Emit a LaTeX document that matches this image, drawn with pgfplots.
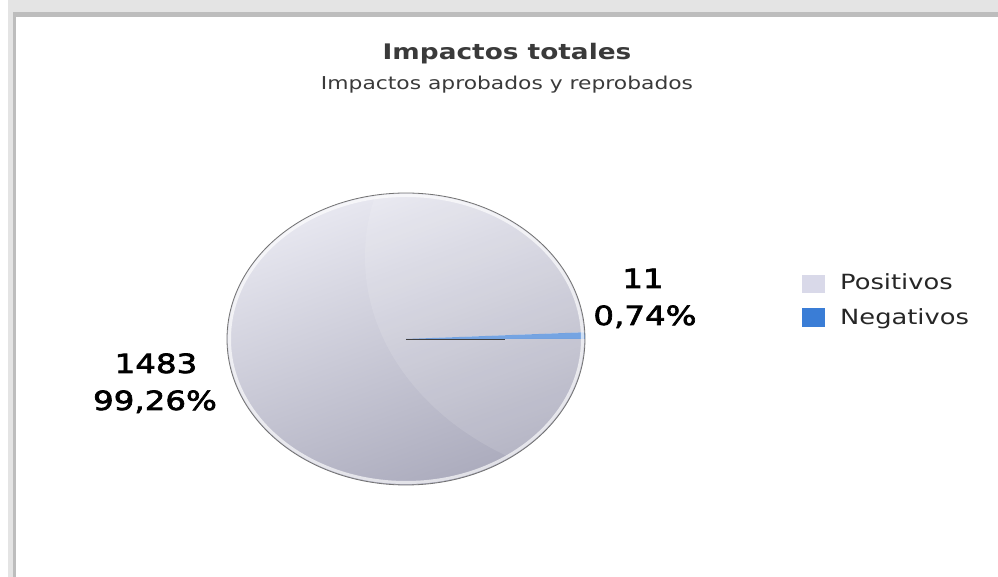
\documentclass[border=0pt]{standalone}
\usepackage{pgfplots}
\pgfplotsset{compat=1.18}
\usepackage{pgfplotstable}
\usepackage{fontspec}
\setmainfont{DejaVu Sans}[FakeStretch=1.23]
\newfontfamily\lblfont{DejaVu Sans}[FakeStretch=1.23,FakeBold=2.5]
\pgfkeys{/pgf/number format/assume math mode=true}

\definecolor{posfill}{HTML}{D9D9E9}
\definecolor{negblue}{HTML}{3A7DD6}
\definecolor{pieTop}{HTML}{ECECF4}
\definecolor{pieBot}{HTML}{A8A8BA}
\definecolor{frameA}{HTML}{E4E4E4}
\definecolor{frameB}{HTML}{BDBDBD}
\definecolor{titlegray}{HTML}{3A3A3A}

\pgfplotstableread{
label value
Positivos 1483
Negativos 11
}\piedata

\begin{document}
\begin{tikzpicture}
\pgfplotstablegetelem{0}{value}\of\piedata \pgfmathsetmacro\vpos{\pgfplotsretval}
\pgfplotstablegetelem{1}{value}\of\piedata \pgfmathsetmacro\vneg{\pgfplotsretval}
\pgfmathsetmacro\fneg{\vneg/(\vpos+\vneg)}
\pgfmathsetmacro\aneg{360*\fneg}
\pgfmathsetmacro\pneg{100*\fneg}
\pgfmathsetmacro\ppos{100*(\vpos/(\vpos+\vneg))}
\path[use as bounding box] (0,0) rectangle (998bp,577bp);
\begin{axis}[at={(0,0)}, anchor=south west, scale only axis,
  width=998bp, height=577bp, xmin=0, xmax=998, ymin=0, ymax=577,
  hide axis, clip=false]
% frame
\fill[frameA] (axis cs:8,565) rectangle (axis cs:998,577);
\fill[frameB] (axis cs:13,560) rectangle (axis cs:998,565);
\fill[frameA] (axis cs:8,0) rectangle (axis cs:13,565);
\fill[frameB] (axis cs:13,0) rectangle (axis cs:16,560);
% title
\node[anchor=base, text=titlegray] at (axis cs:507,517)
  {\bfseries\fontsize{21.5}{24}\selectfont Impactos totales};
\node[anchor=base, text=titlegray] at (axis cs:507,487)
  {\fontsize{17.8}{20}\selectfont Impactos aprobados y reprobados};
% positive slice
\begin{scope}
\clip (axis cs:406,238) -- (axis cs:{406+179*cos(\aneg)},{238+146*sin(\aneg)})
   arc[start angle=\aneg, end angle=360, x radius=179, y radius=146] -- cycle;
\shade[top color=pieTop, bottom color=pieBot, shading angle=20]
   (axis cs:200,80) rectangle (axis cs:610,400);
\fill[white, opacity=0.12] (axis cs:650,320) ellipse [x radius=285, y radius=230];
\end{scope}
% negative slice
\fill[negblue, opacity=0.7] (axis cs:406,238) -- (axis cs:585,238)
   arc[start angle=0, end angle=\aneg, x radius=179, y radius=146] -- cycle;
\draw[black!75, line width=0.9bp] (axis cs:406,238) -- (axis cs:505,238);
% rim
\draw[white, opacity=0.65, line width=3bp] (axis cs:406,238) ellipse [x radius=176.5, y radius=143.5];
\draw[black!55, line width=0.8bp] (axis cs:406,238) ellipse [x radius=179, y radius=146];
% labels
\node[anchor=base] at (axis cs:643,289) {\lblfont\fontsize{26.5}{30}\selectfont \pgfmathprintnumber[int detect]{\vneg}};
\node[anchor=base] at (axis cs:645,252) {\lblfont\fontsize{26.5}{30}\selectfont \pgfmathprintnumber[fixed,fixed zerofill,precision=2,use comma]{\pneg}\%};
\node[anchor=base] at (axis cs:156,204) {\lblfont\fontsize{26.5}{30}\selectfont \pgfmathprintnumber[int detect,1000 sep={}]{\vpos}};
\node[anchor=base] at (axis cs:155,167) {\lblfont\fontsize{26.5}{30}\selectfont \pgfmathprintnumber[fixed,fixed zerofill,precision=2,use comma]{\ppos}\%};
% legend
\fill[posfill] (axis cs:802,284) rectangle (axis cs:825,302);
\fill[negblue] (axis cs:802,250) rectangle (axis cs:825,269);
\node[anchor=base west, inner sep=0pt, text=black!85] at (axis cs:840,287) {\fontsize{21}{24}\selectfont Positivos};
\node[anchor=base west, inner sep=0pt, text=black!85] at (axis cs:840,252) {\fontsize{21}{24}\selectfont Negativos};
\end{axis}
\end{tikzpicture}
\end{document}
